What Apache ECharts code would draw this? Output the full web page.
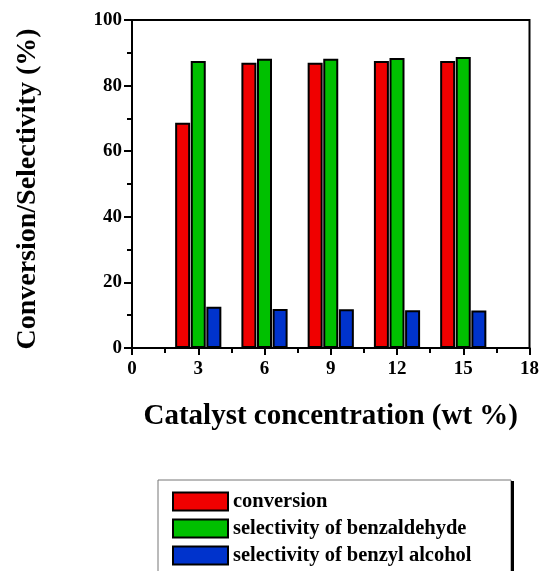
<!DOCTYPE html>
<html><head><meta charset="utf-8">
<script src="https://cdn.jsdelivr.net/npm/echarts@6/dist/echarts.min.js"></script>
<style>html,body{margin:0;padding:0;background:#fff}#c{width:542px;height:571px}</style>
</head><body><div id="c"></div>
<script>
const concentrations = [3, 6, 9, 12, 15];
const conversion = [68.7, 87.0, 87.0, 87.5, 87.5];
const selBenzaldehyde = [87.5, 88.2, 88.2, 88.4, 88.7];
const selBenzylAlcohol = [12.6, 11.9, 11.8, 11.5, 11.4];
const seriesNames = ['conversion', 'selectivity of benzaldehyde', 'selectivity of benzyl alcohol'];
const colors = ['#f00000', '#00c000', '#0033cc'];

const font = '"Liberation Serif", "Times New Roman", serif';
const chart = echarts.init(document.getElementById('c'));
const mk = (arr, i) => ({
  name: seriesNames[i], type: 'bar', barWidth: 15, barGap: '4%',
  data: concentrations.map((x, k) => [x, arr[k]]),
  itemStyle: { color: colors[i], borderColor: '#000', borderWidth: 2 },
  emphasis: { disabled: true }
});
chart.setOption({
  animation: false,
  grid: { left: 132, right: 10, top: 20, bottom: 223, show: true, borderColor: '#000', borderWidth: 2, backgroundColor: 'transparent' },
  xAxis: {
    type: 'value', min: 0, max: 18, interval: 3,
    name: 'Catalyst concentration (wt %)', nameLocation: 'middle', nameGap: 54,
    nameTextStyle: { fontFamily: font, fontWeight: 'bold', fontSize: 29, color: '#000' },
    axisLine: { show: true, lineStyle: { color: '#000', width: 2 } },
    axisTick: { show: true, length: 7, lineStyle: { color: '#000', width: 2 } },
    minorTick: { show: true, splitNumber: 2, length: 5, lineStyle: { color: '#000', width: 2 } },
    splitLine: { show: false },
    axisLabel: { fontFamily: font, fontWeight: 'bold', fontSize: 19, color: '#000', margin: 12 }
  },
  yAxis: {
    type: 'value', min: 0, max: 100, interval: 20,
    name: 'Conversion/Selectivity (%)', nameLocation: 'middle', nameGap: 90,
    nameTextStyle: { fontFamily: font, fontWeight: 'bold', fontSize: 28, color: '#000', padding: [0, 10, 0, 0] },
    axisLine: { show: true, lineStyle: { color: '#000', width: 2 } },
    axisTick: { show: true, length: 8, lineStyle: { color: '#000', width: 2 } },
    minorTick: { show: true, splitNumber: 2, length: 5, lineStyle: { color: '#000', width: 2 } },
    splitLine: { show: false },
    axisLabel: { fontFamily: font, fontWeight: 'bold', fontSize: 19, color: '#000', margin: 10 }
  },
  legend: {
    orient: 'vertical', left: 172, top: 491, itemWidth: 55, itemHeight: 18, itemGap: 6,
    padding: 0, icon: 'rect',
    textStyle: { fontFamily: font, fontWeight: 'bold', fontSize: 20.5, color: '#000' },
    data: seriesNames
  },
  graphic: [
    { type: 'rect', shape: { x: 158, y: 480, width: 353, height: 100 }, style: { fill: 'none', stroke: '#777', lineWidth: 1 }, z: -1 },
    { type: 'line', shape: { x1: 512.5, y1: 481, x2: 512.5, y2: 571 }, style: { stroke: '#000', lineWidth: 3 } }
  ],
  series: [mk(conversion, 0), mk(selBenzaldehyde, 1), mk(selBenzylAlcohol, 2)]
});
</script></body></html>
